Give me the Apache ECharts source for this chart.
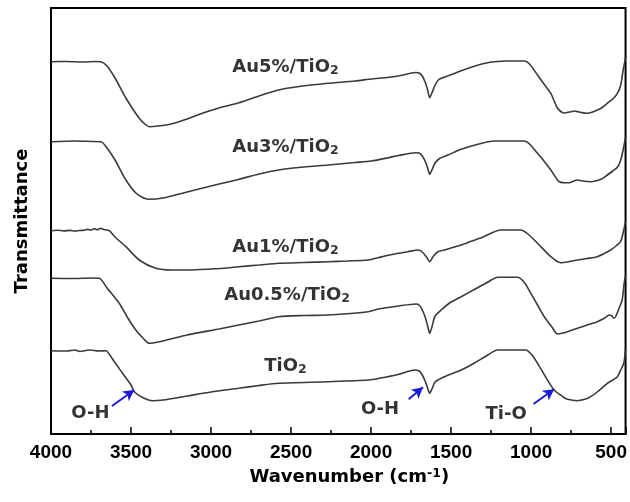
<!DOCTYPE html>
<html>
<head>
<meta charset="utf-8">
<script src="https://cdn.jsdelivr.net/npm/echarts@6/dist/echarts.min.js"></script>
<style>
html,body{margin:0;padding:0;background:#fff;}
#chart{width:630px;height:502px;}
</style>
</head>
<body>
<div id="chart"></div>
<script>
// Wavenumber (cm-1) and transmittance (arbitrary, offset) values
const au5Wave = [4000,3900,3800,3720,3688,3650,3600,3532,3450,3410,3385,3330,3250,3150,3050,2950,2830,2700,2580,2450,2270,2100,2000,1900,1830,1720,1700,1680,1660,1645,1634,1620,1600,1580,1540,1480,1437,1350,1280,1230,1150,1040,1010,960,920,877,836,810,790,760,730,700,650,600,560,524,490,461,440,425,415,411];
const au5Val  = [372.3,372.5,372,372.5,372.3,368,356,336,316,309.5,307.3,308,310,315,321,326,331,338,344,347.5,350.7,353,355,356.5,358,361.5,361,358,351,343,336.3,341,349,354,357,360.5,363.3,368,371,372.3,373,373,370,359,350,340.7,326,322,321,322,323,322,320.7,323,326,330.7,335,340.7,349,364,372,376];

const au3Wave = [4000,3850,3750,3688,3650,3600,3532,3470,3420,3387,3300,3150,2950,2830,2700,2578,2420,2267,2100,2000,1900,1830,1720,1700,1680,1660,1645,1634,1620,1600,1570,1520,1437,1350,1230,1043,1010,960,920,877,825,790,760,711,680,628,560,524,490,461,440,421,411];
const au3Val  = [292.3,293,292.5,292.3,286,274,254,241,236,234.7,236,242,250,254.5,260,264,267,269,271.5,273,276,278.5,281.3,281,278,272,265,259.7,264,271,275.7,279,284.7,289,293,293,290,280.7,273,264,252.3,251.3,251.3,254,253,252.3,255,259,263,266.7,274,287.3,296];

const au1Wave = [4000,3960,3920,3880,3850,3820,3790,3770,3750,3730,3710,3690,3670,3636,3600,3532,3449,3345,3244,3138,3000,2900,2827,2700,2578,2420,2267,2150,2018,1956,1900,1830,1770,1707,1680,1650,1634,1610,1583,1540,1500,1437,1370,1300,1189,1064,1020,960,877,815,760,711,650,587,503,470,441,421,411];
const au1Val  = [203.3,203.8,203.1,203.6,202.8,203.5,203.8,204.6,203.9,205.4,204.3,205.8,204.6,203.3,197,187.3,174,165.7,164,164,165,166,167.3,169,170.7,171.5,172.3,173,174,176.3,178.5,180.7,182.3,184,182,176,172.3,178,182.3,184,186,189,193,197,204,204,200,190.7,177.3,171.3,172.5,174,175.5,177.3,184,188,192.3,204,212];

const au05Wave = [4000,3850,3750,3698,3650,3574,3520,3470,3420,3387,3300,3150,2950,2827,2700,2578,2420,2267,2018,1956,1830,1720,1700,1680,1660,1645,1634,1620,1600,1562,1500,1437,1350,1280,1209,1085,1040,1002,960,918,870,836,800,760,711,650,587,540,513,495,482,470,450,431,420,411];
const au05Val  = [155.7,155.5,156,155.7,146,130.7,116,104,95,90.7,93,99,105,109,113,117.3,118.5,119,122.3,125,128,130,129,124,116,107,100.7,107,118,124,132,137.3,145,151,156.7,156.7,151,140.7,129,117.3,107,100,101,103,105.7,109,112.3,116,119,118,115.7,118,126,134,149,158];

const tio2Wave = [4000,3900,3850,3820,3780,3760,3700,3656,3620,3553,3500,3480,3420,3367,3300,3150,3000,2827,2700,2578,2267,2018,1950,1830,1727,1700,1680,1660,1645,1634,1620,1600,1562,1500,1437,1354,1280,1209,1033,990,960,898,856,800,773,711,650,628,587,524,490,461,440,421,411];
const tio2Val  = [83.3,83,84,82.5,83.5,84,83,83.3,76,60.7,49,42.3,36,33.3,34,38,42,45.7,48.5,50.7,52.3,54,55.7,59.5,64,63,59,52,45,40.7,45,52,55.7,60,64,71,78,84,84,78,70.7,54,44,37,34.7,33.3,35.5,37.3,42,50.7,54,57.3,64,70.7,84];

// Curve labels (rich text) and their anchor positions (wavenumber, value)
const curveLabels = ['Au5%/TiO{sub|2}','Au3%/TiO{sub|2}','Au1%/TiO{sub|2}','Au0.5%/TiO{sub|2}','TiO{sub|2}'];
const curveLabelWave = [2535,2535,2535,2525,2535];
const curveLabelVal = [367,287,187,139,68];

// Band annotations
const bandLabels = ['O-H','O-H','Ti-O'];
const bandLabelWave = [3754,1944,1156];
const bandLabelVal = [21,25,20];
const arrowFromWave = [3619,1765,985];
const arrowFromVal = [28,34.7,30];
const arrowToWave = [3480,1676,856];
const arrowToVal = [44,46.7,44.7];

const xTicks = [4000,3500,3000,2500,2000,1500,1000,500];

const FONT = '"Liberation Sans", Arial, sans-serif';
const LFONT = '"DejaVu Sans", sans-serif';
const LINE = '#3a3a3a';

function pairs(w, v){ return w.map((x,i)=>[-x, v[i]]); }

const curves = [
  ['Au5%/TiO2', au5Wave, au5Val],
  ['Au3%/TiO2', au3Wave, au3Val],
  ['Au1%/TiO2', au1Wave, au1Val],
  ['Au0.5%/TiO2', au05Wave, au05Val],
  ['TiO2', tio2Wave, tio2Val]
];

const series = curves.map(c => ({
  name: c[0], type: 'line', data: pairs(c[1], c[2]),
  showSymbol: false, symbol: 'none', smooth: 0.25,
  lineStyle: {color: LINE, width: 1.6}, silent: true
}));

const richStyles = {
  sub: {fontSize: 12.5, fontWeight: 'bold', fontFamily: LFONT, color: '#000', lineHeight: 6, verticalAlign: 'bottom'}
};

series.push({
  type: 'scatter', symbolSize: 0, silent: true,
  data: curveLabels.map((t,i)=>({value:[-curveLabelWave[i], curveLabelVal[i]], txt:t})),
  label: {show: true, position: 'inside', formatter: p => p.data.txt,
    fontSize: 18, fontWeight: 'bold', fontFamily: LFONT, color: '#000', lineHeight: 20, rich: richStyles}
});
series.push({
  type: 'scatter', symbolSize: 0, silent: true,
  data: bandLabels.map((t,i)=>({value:[-bandLabelWave[i], bandLabelVal[i]], txt:t})),
  label: {show: true, position: 'inside', formatter: p => p.data.txt,
    fontSize: 18, fontWeight: 'bold', fontFamily: LFONT, color: '#000'},
  markLine: {
    silent: true, animation: false,
    symbol: ['none','arrow'], symbolSize: [9, 11],
    lineStyle: {color: '#1a1ad8', width: 2, type: 'solid'},
    label: {show: false},
    data: arrowFromWave.map((w,i)=>[{coord:[-w, arrowFromVal[i]]},{coord:[-arrowToWave[i], arrowToVal[i]]}])
  }
});

const chart = echarts.init(document.getElementById('chart'), null, {renderer:'canvas'});
chart.setOption({
  animation: false,
  backgroundColor: '#fff',
  grid: {left: 51, right: 2, top: 8, bottom: 68, show: true, borderColor: '#000', borderWidth: 2, backgroundColor: 'transparent'},
  xAxis: {
    type: 'value', min: -xTicks[0], max: -410, interval: 500,
    axisLine: {show: true, lineStyle: {color: '#000', width: 2}},
    axisTick: {show: true, inside: true, length: 7, lineStyle: {color: '#000', width: 1.5}},
    minorTick: {show: true, splitNumber: 2, length: 4, lineStyle: {color: '#000', width: 1.5}},
    splitLine: {show: false},
    axisLabel: {show: true, margin: 9, showMaxLabel: false, fontSize: 19, fontWeight: 'bold', fontFamily: FONT, color: '#000',
      formatter: v => xTicks.indexOf(-v) >= 0 ? String(-v) : ''},
    name: 'Wavenumber (cm{sup|-1})', nameLocation: 'middle', nameGap: 31,
    nameTextStyle: {fontSize: 18, fontWeight: 'bold', fontFamily: LFONT, color: '#000', lineHeight: 20, padding: [0,0,0,22],
      rich: {sup: {fontSize: 12.5, fontWeight: 'bold', fontFamily: LFONT, color: '#000', lineHeight: 6, verticalAlign: 'top'}}}
  },
  yAxis: {
    type: 'value', min: 0, max: 426,
    axisLine: {show: true, lineStyle: {color: '#000', width: 2}},
    axisTick: {show: false}, axisLabel: {show: false}, splitLine: {show: false},
    name: 'Transmittance', nameLocation: 'middle', nameGap: 20, nameRotate: 90,
    nameTextStyle: {fontSize: 18, fontWeight: 'bold', fontFamily: LFONT, color: '#000'}
  },
  series: series
});
</script>
</body>
</html>
